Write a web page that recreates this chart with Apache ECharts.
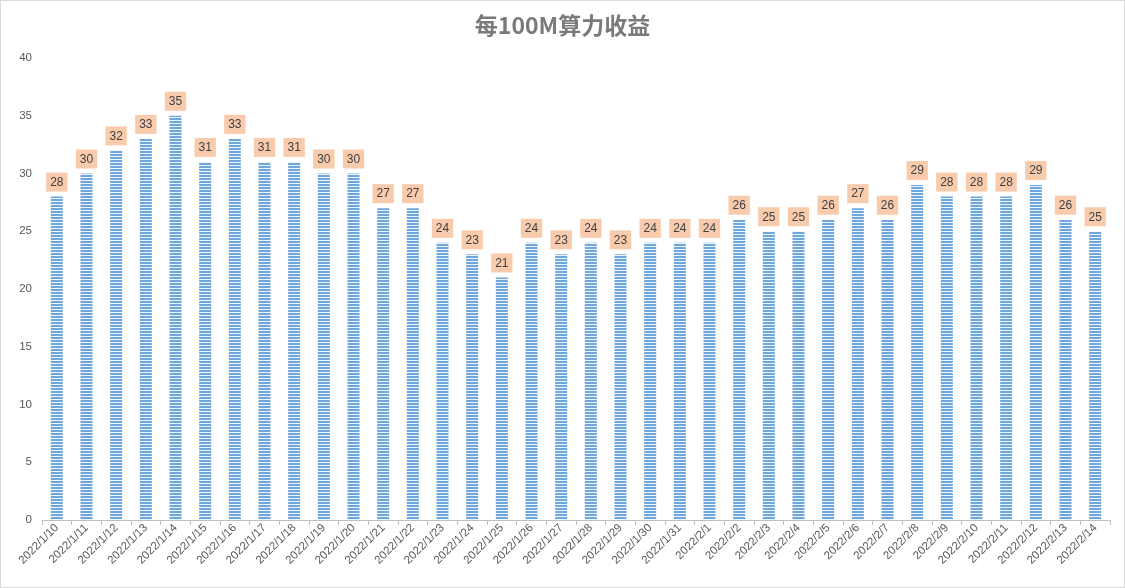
<!DOCTYPE html>
<html><head><meta charset="utf-8">
<script src="https://cdn.jsdelivr.net/npm/echarts@6/dist/echarts.min.js"></script>
<style>html,body{margin:0;padding:0;background:#fff}
#c{width:1123px;height:586px;border:1px solid #d9d9d9;}</style>
</head><body><div id="c"></div>
<script>
const categories = ['2022/1/10','2022/1/11','2022/1/12','2022/1/13','2022/1/14','2022/1/15','2022/1/16','2022/1/17','2022/1/18','2022/1/19','2022/1/20','2022/1/21','2022/1/22','2022/1/23','2022/1/24','2022/1/25','2022/1/26','2022/1/27','2022/1/28','2022/1/29','2022/1/30','2022/1/31','2022/2/1','2022/2/2','2022/2/3','2022/2/4','2022/2/5','2022/2/6','2022/2/7','2022/2/8','2022/2/9','2022/2/10','2022/2/11','2022/2/12','2022/2/13','2022/2/14'];
const values = [28,30,32,33,35,31,33,31,31,30,30,27,27,24,23,21,24,23,24,23,24,24,24,26,25,25,26,27,26,29,28,28,28,29,26,25];
const title = '每100M算力收益';

const pc = document.createElement('canvas');
pc.width = 4; pc.height = 3;
const g = pc.getContext('2d');
g.fillStyle = '#6fa7dc'; g.fillRect(0,0,4,2);
g.fillStyle = '#eef4fb'; g.fillRect(0,2,4,1);

const chart = echarts.init(document.getElementById('c'));
chart.setOption({
  animation:false,
  title:{text:title,left:'center',top:8,textStyle:{fontFamily:'Noto Sans CJK SC',fontSize:23,fontWeight:'bold',color:'#7a7a7a'}},
  grid:{left:41,right:14,top:57,bottom:67,containLabel:false},
  xAxis:{type:'category',data:categories,
    axisLine:{lineStyle:{color:'#bfbfbf',width:1}},
    axisTick:{show:true,length:5,lineStyle:{color:'#bfbfbf'}},
    axisLabel:{rotate:45,interval:0,fontSize:11.5,color:'#595959',fontFamily:'Liberation Sans',margin:6}},
  yAxis:{type:'value',min:0,max:40,interval:5,splitLine:{show:false},
    axisLine:{show:false},axisTick:{show:false},
    axisLabel:{fontSize:11.5,color:'#595959',fontFamily:'Liberation Sans',margin:10}},
  series:[{type:'bar',data:values,barWidth:12,
    itemStyle:{color:{image:pc,repeat:'repeat'}},
    label:{show:true,position:'top',distance:5,fontSize:12,color:'#404040',fontFamily:'Liberation Sans',
      backgroundColor:'#f8cbad',padding:[4,4,3,4]}}]
});
</script></body></html>
